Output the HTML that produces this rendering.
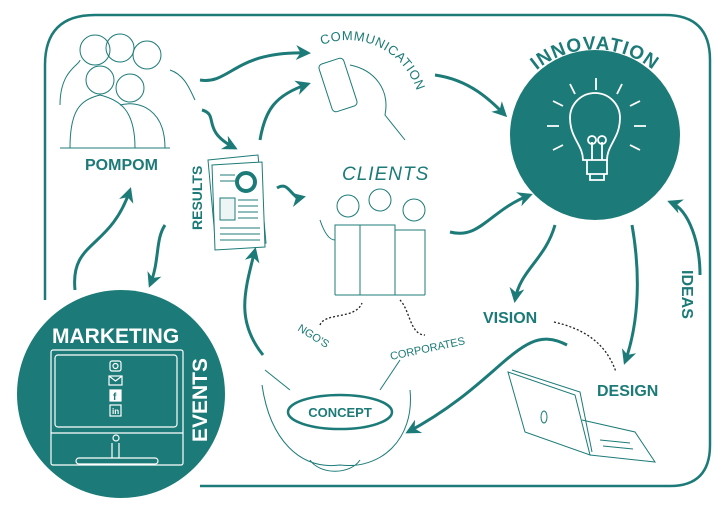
<!DOCTYPE html>
<html><head><meta charset="utf-8"><style>
html,body{margin:0;padding:0;background:#fff;}
svg{display:block;font-family:"Liberation Sans",sans-serif;}
</style></head><body>
<svg width="728" height="509" viewBox="0 0 728 509" xmlns="http://www.w3.org/2000/svg">
<defs>
<marker id="ah" viewBox="0 0 10 10" refX="8" refY="5" markerWidth="5" markerHeight="5" orient="auto"><path d="M0,0 L10,5 L0,10 L3,5 z" fill="#1c7b78"/></marker>
<path id="innov" d="M515,96 A92,92 0 0 1 675,96"/>
<path id="comm" d="M322,45 A72,72 0 0 1 420,114"/>
</defs>
<!-- border -->
<path d="M95,15 L665,15 Q710,15 710,60 L710,445 Q710,486 670,486 L200,486 M45,300 L45,65 Q45,15 95,15" fill="none" stroke="#1c7b78" stroke-width="2.5"/>
<!-- innovation circle -->
<circle cx="595" cy="135" r="85" fill="#1c7b78"/>
<text font-size="19" font-weight="bold" fill="#1c7b78" letter-spacing="1" text-anchor="middle"><textPath href="#innov" startOffset="50%">INNOVATION</textPath></text>
<g stroke="#fff" stroke-width="1.8" fill="none">
<path d="M583,160 C583,145 570,138 570,118 A25,25 0 0 1 620,118 C620,138 607,145 607,160 Z"/>
<path d="M587,160 v14 h20 v-14 M590,174 v6 h14 v-6"/>
<path d="M592,160 v-18 M602,160 v-18"/><circle cx="592" cy="140" r="4"/><circle cx="602" cy="140" r="4"/>
<path d="M596,78 v12 M570,84 l5,10 M622,84 l-5,10 M553,101 l10,5 M640,101 l-10,5 M547,126 h12 M634,126 h12 M553,150 l10,-5 M640,150 l-10,-5"/>
</g>
<!-- marketing circle -->
<circle cx="121" cy="394" r="104" fill="#1c7b78"/>
<text x="52" y="343" font-size="21" font-weight="bold" fill="#fff">MARKETING</text>
<text transform="translate(207,442) rotate(-90)" font-size="21" font-weight="bold" fill="#fff">EVENTS</text>
<g stroke="#fff" stroke-width="1.2" fill="none">
<rect x="51" y="350" width="132" height="115" rx="2"/>
<rect x="55" y="355" width="122" height="72" rx="3"/>
<path d="M51,433 h132"/><circle cx="116" cy="438" r="3"/>
<path d="M112,443 v15 M119,443 v15"/><rect x="76" y="458" width="82" height="6" rx="3"/>
<rect x="110" y="361" width="11" height="10" rx="2"/><circle cx="115.5" cy="366" r="2.5"/>
<rect x="109" y="376" width="13" height="9"/><path d="M109,376 l6.5,5 l6.5,-5"/>
<rect x="110" y="390" width="11" height="11" fill="#fff"/>
<rect x="110" y="405" width="11" height="11"/>
</g>
<text x="112" y="414" font-size="8" font-weight="bold" fill="#fff">in</text>
<text x="113" y="400" font-size="10" font-weight="bold" fill="#1c7b78">f</text>
<!-- labels -->
<text font-size="13" fill="#1c7b78" letter-spacing="0.5"><textPath href="#comm">COMMUNICATION</textPath></text>
<text x="85" y="170" font-size="16" font-weight="bold" fill="#1c7b78">POMPOM</text>
<text transform="translate(202,230) rotate(-90)" font-size="14" font-weight="bold" fill="#1c7b78">RESULTS</text>
<text x="342" y="180" font-size="19" font-style="italic" fill="#1c7b78" letter-spacing="1">CLIENTS</text>
<text x="483" y="323" font-size="16" font-weight="bold" fill="#1c7b78">VISION</text>
<text transform="translate(682,270) rotate(90)" font-size="16" font-weight="bold" fill="#1c7b78">IDEAS</text>
<text x="597" y="396" font-size="16" font-weight="bold" fill="#1c7b78">DESIGN</text>
<text transform="translate(297,330) rotate(32)" font-size="11" fill="#1c7b78">NGO'S</text>
<text transform="translate(391,360) rotate(-12)" font-size="11" fill="#1c7b78">CORPORATES</text>
<ellipse cx="340" cy="412" rx="52" ry="17" fill="#fff" stroke="#1c7b78" stroke-width="2.5"/>
<text x="340" y="417" font-size="13" font-weight="bold" fill="#1c7b78" text-anchor="middle">CONCEPT</text>
<!-- arrows -->
<g stroke="#1c7b78" stroke-width="3" fill="none" marker-end="url(#ah)">
<path d="M200,80 C230,85 235,50 308,53"/>
<path d="M202,110 C220,115 200,130 235,148"/>
<path d="M260,140 C265,110 275,95 308,84"/>
<path d="M435,75 C470,80 490,100 505,115"/>
<path d="M277,188 C290,180 290,200 303,197"/>
<path d="M450,232 C480,240 490,210 530,195"/>
<path d="M75,290 C70,240 110,250 130,190"/>
<path d="M165,225 C155,240 160,260 150,285"/>
<path d="M263,355 C235,320 245,290 255,250"/>
<path d="M555,225 C545,260 520,270 515,300"/>
<path d="M632,225 C640,270 640,320 625,362"/>
<path d="M700,275 C700,245 690,210 670,202"/>
<path d="M567,345 C520,320 505,380 408,432"/>
</g>
<g stroke="#222" stroke-width="1.3" fill="none" stroke-dasharray="2,2">
<path d="M320,325 C325,312 355,320 362,303"/>
<path d="M400,300 C410,310 410,335 425,335"/>
<path d="M554,322 C580,328 605,340 616,372"/>
</g>
<!-- sketches -->
<g stroke="#1c7b78" stroke-width="1" fill="none">
<circle cx="95" cy="50" r="15"/><circle cx="120" cy="48" r="14"/><circle cx="147" cy="55" r="14"/>
<circle cx="100" cy="80" r="14"/><circle cx="130" cy="88" r="14"/>
<path d="M60,105 C60,70 80,65 80,60 M170,70 C185,75 190,90 195,100 M70,148 C70,110 80,100 100,95 C120,100 135,110 135,148 M120,105 C140,100 165,110 165,148 M60,148 h110"/>
<circle cx="348" cy="206" r="11"/><circle cx="380" cy="200" r="11"/><circle cx="414" cy="210" r="11"/>
<path d="M335,295 V225 h25 V295 M360,295 V225 h35 V295 M395,295 V230 h30 V295 M335,295 h90 M320,220 c5,15 10,20 15,20"/>
<rect x="325" y="60" width="26" height="50" rx="4" transform="rotate(-18 338 85)"/>
<path d="M350,65 C375,70 390,90 385,115 L405,140"/>
<path d="M208,160 l50,-5 l8,88 l-50,5 z" fill="#fff"/>
<path d="M212,165 l50,-3 l3,85 l-50,3 z" fill="#fff"/>
<circle cx="246" cy="182" r="9" stroke-width="4"/>
<rect x="220" y="198" width="15" height="22" fill="#eef6f5"/>
<path d="M238,200 h20 M238,206 h20 M238,212 h20 M238,218 h20 M220,228 h40 M220,234 h40 M220,240 h40 M220,175 h15 M220,181 h15"/>
<path d="M262,385 C270,440 300,470 340,465 C380,470 415,440 410,390 M265,370 l25,20 M400,360 l-20,30 M310,460 c10,15 40,15 50,0"/>
<path d="M508,372 L575,395 L590,455 L525,432 Z"/><path d="M512,370 L580,392 L592,452"/>
<ellipse cx="544" cy="417" rx="3" ry="6"/>
<path d="M590,455 L655,462 L635,432 L582,420 M600,440 l30,3 M603,446 l30,3"/>
</g>
</svg>
</body></html>
